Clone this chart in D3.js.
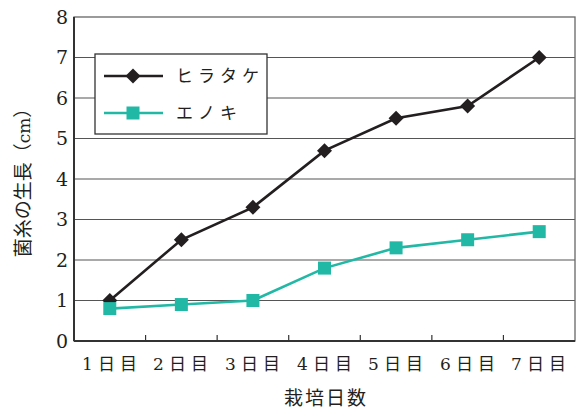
<!DOCTYPE html>
<html><head><meta charset="utf-8">
<script src="https://cdn.jsdelivr.net/npm/d3@7"></script>
<style>body{margin:0;background:#fff}svg{display:block}text{-webkit-font-smoothing:antialiased}</style>
</head><body>
<script>
const categories = ["1日目","2日目","3日目","4日目","5日目","6日目","7日目"];
const hiratake = [1.0, 2.5, 3.3, 4.7, 5.5, 5.8, 7.0];
const enoki = [0.8, 0.9, 1.0, 1.8, 2.3, 2.5, 2.7];
const yTicks = [0,1,2,3,4,5,6,7,8];
const seriesNames = ["ヒラタケ","エノキ"];
const colors = ["#231f20","#22b8a6"];

const DIG = "'DejaVu Serif', serif";
const CJK = "'Noto Sans CJK JP', sans-serif";
const W=576,H=410, m={l:74,r:1,t:17,b:69};
const svg=d3.select("body").append("svg").attr("width",W).attr("height",H);
const x=d3.scaleBand().domain(categories).range([m.l,W-m.r]);
const y=d3.scaleLinear().domain([0,8]).range([H-m.b,m.t]);

// gridlines
svg.append("g").selectAll("line").data(yTicks.filter(d=>d>0&&d<8)).join("line")
 .attr("x1",m.l).attr("x2",W-m.r).attr("y1",d=>y(d)).attr("y2",d=>y(d))
 .attr("stroke","#555").attr("stroke-width",1.2);
// frame
svg.append("rect").attr("x",m.l).attr("y",m.t).attr("width",W-m.r-m.l).attr("height",H-m.b-m.t)
 .attr("fill","none").attr("stroke","#666").attr("stroke-width",1.3);
svg.append("line").attr("x1",m.l).attr("x2",m.l).attr("y1",m.t).attr("y2",H-m.b).attr("stroke","#333").attr("stroke-width",2);
svg.append("line").attr("x1",m.l).attr("x2",W-m.r).attr("y1",H-m.b).attr("y2",H-m.b).attr("stroke","#333").attr("stroke-width",2);

// y axis labels
svg.append("g").selectAll("text").data(yTicks).join("text")
 .attr("x",62).attr("y",d=>y(d)).attr("dy","0.36em").attr("text-anchor","middle")
 .attr("font-family",DIG).attr("fill","#231f20").attr("font-size",19).text(d=>d);
// x ticks
svg.append("g").selectAll("line").data(categories.slice(1)).join("line")
 .attr("x1",d=>x(d)).attr("x2",d=>x(d)).attr("y1",H-m.b).attr("y2",H-m.b-6)
 .attr("stroke","#333").attr("stroke-width",1.2);
const xl=svg.append("g").selectAll("text").data(categories).join("text")
 .attr("x",d=>Math.round(x(d)+x.bandwidth()/2+2)).attr("y",370).attr("text-anchor","middle")
 .attr("fill","#231f20").attr("font-size",17).attr("letter-spacing",5);
xl.append("tspan").attr("font-family",DIG).text(d=>d.slice(0,1));
xl.append("tspan").attr("font-family",CJK).text(d=>d.slice(1));
// axis titles
svg.append("text").attr("x",326).attr("y",405).attr("text-anchor","middle").attr("font-size",19).attr("letter-spacing",2)
 .attr("font-family",CJK).attr("fill","#231f20").text("栽培日数");
const yt=svg.append("text").attr("transform","translate(30,178) rotate(-90)").attr("text-anchor","middle").attr("font-size",19).attr("fill","#231f20");
yt.append("tspan").attr("font-family",CJK).text("菌糸の生長（");
yt.append("tspan").attr("font-family",DIG).attr("font-size",17).text("cm");
yt.append("tspan").attr("font-family",CJK).text("）");

const cx=d=>x(d)+x.bandwidth()/2;
const line=d3.line().x((d,i)=>cx(categories[i])).y(d=>y(d));
const diamond=(g,px,py,s,c)=>g.append("path").attr("d",`M${px},${py-s}L${px+s},${py}L${px},${py+s}L${px-s},${py}Z`).attr("fill",c);
const square=(g,px,py,s,c)=>g.append("rect").attr("x",px-s).attr("y",py-s).attr("width",2*s).attr("height",2*s).attr("fill",c);

svg.append("path").datum(enoki).attr("d",line).attr("fill","none").attr("stroke",colors[1]).attr("stroke-width",2.6);
svg.append("path").datum(hiratake).attr("d",line).attr("fill","none").attr("stroke",colors[0]).attr("stroke-width",2.6);
const gh=svg.append("g");
hiratake.forEach((v,i)=>diamond(gh,cx(categories[i]),y(v),7.5,colors[0]));
const ge=svg.append("g");
enoki.forEach((v,i)=>square(ge,cx(categories[i]),y(v),6.5,colors[1]));

// legend
const lg=svg.append("g");
lg.append("rect").attr("x",95).attr("y",54).attr("width",172).attr("height",80).attr("fill","#fff").attr("stroke","#333").attr("stroke-width",1.3);
[76,113].forEach((ly,i)=>{
  lg.append("line").attr("x1",104).attr("x2",163).attr("y1",ly).attr("y2",ly).attr("stroke",colors[i]).attr("stroke-width",2.6);
  if(i===0) diamond(lg,133,ly,7.5,colors[0]); else square(lg,133,ly,6.5,colors[1]);
  lg.append("text").attr("x",176).attr("y",ly).attr("dy","0.36em").attr("font-size",17).attr("letter-spacing",5)
   .attr("font-family",CJK).attr("fill","#231f20").text(seriesNames[i]);
});
</script>
</body></html>
